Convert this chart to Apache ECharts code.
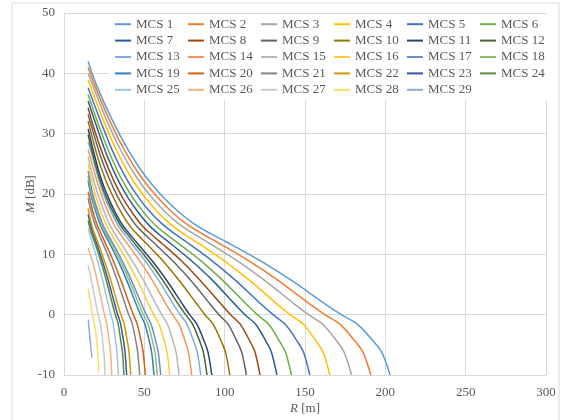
<!DOCTYPE html>
<html>
<head>
<meta charset="utf-8">
<script src="https://cdn.jsdelivr.net/npm/echarts@6/dist/echarts.min.js"></script>
<style>
  html, body { margin: 0; padding: 0; background: #fff; }
  #chart { width: 570px; height: 420px; }
</style>
</head>
<body>
<div id="chart"></div>
<script>
// [R (m), M (dB)], one array per MCS
var mcs1 = [[15,42],[20.3,38],[30.5,32],[40.6,27],[50.8,22.9],[60.9,19.7],[71.1,17.1],[81.2,15],[91.4,13.4],[101.5,12],[121.8,9],[142.1,5.6],[162.4,1.8],[172.6,0],[182.7,-1.6],[192.9,-4.5],[197.9,-6.3],[203,-10]];
var mcs2 = [[15,41],[19.1,38],[28.7,32],[38.2,27],[47.8,22.9],[57.3,19.7],[66.9,17.1],[76.4,15],[86,13.4],[95.5,12],[114.6,9],[133.7,5.6],[152.8,1.8],[162.4,0],[171.9,-1.6],[181.5,-4.5],[186.2,-6.3],[191,-10]];
var mcs3 = [[15,40],[17.9,38],[26.9,32],[35.8,27],[44.8,22.9],[53.7,19.7],[62.7,17.1],[71.6,15],[80.6,13.4],[89.5,12],[107.4,9],[125.3,5.6],[143.2,1.8],[152.2,0],[161.1,-1.6],[170.1,-4.5],[174.5,-6.3],[179,-10]];
var mcs4 = [[15,38.9],[24.8,32],[33.1,27],[41.4,22.9],[49.7,19.7],[57.9,17.1],[66.2,15],[74.5,13.4],[82.8,12],[99.3,9],[115.9,5.6],[132.4,1.8],[140.7,0],[149,-1.6],[157.2,-4.5],[161.4,-6.3],[165.5,-10]];
var mcs5 = [[15,37.6],[23,31.9],[30.6,26.9],[38.3,22.8],[45.9,19.6],[53.6,17],[61.2,15],[68.9,13.4],[76.5,12],[91.8,9],[107.1,5.6],[122.4,1.8],[130.1,0],[137.7,-1.6],[145.4,-4.5],[149.2,-6.3],[153,-10]];
var mcs6 = [[15,36.5],[21.2,31.7],[28.3,26.8],[35.4,22.7],[42.5,19.5],[49.5,17],[56.6,14.9],[63.7,13.3],[70.8,11.9],[84.9,9],[99.1,5.6],[113.2,1.8],[120.3,0],[127.4,-1.6],[134.4,-4.5],[138,-6.3],[141.5,-10]];
var mcs7 = [[15,35.4],[19.9,31.5],[26.5,26.6],[33.1,22.6],[39.8,19.4],[46.4,16.9],[53,14.8],[59.6,13.2],[66.3,11.8],[79.5,8.9],[92.8,5.6],[106,1.8],[112.6,0],[119.3,-1.6],[125.9,-4.5],[129.2,-6.3],[132.5,-10]];
var mcs8 = [[15,34.3],[18.3,31.2],[24.4,26.4],[30.5,22.5],[36.6,19.3],[42.7,16.8],[48.8,14.7],[54.9,13.2],[61,11.8],[73.2,8.9],[85.4,5.5],[97.6,1.8],[103.7,0],[109.8,-1.6],[115.9,-4.5],[119,-6.3],[122,-10]];
var mcs9 = [[15,33.2],[22.7,26.3],[28.4,22.4],[34.1,19.2],[39.7,16.7],[45.4,14.6],[51.1,13.1],[56.8,11.7],[68.1,8.8],[79.5,5.5],[90.8,1.8],[96.5,0],[102.2,-1.6],[107.8,-4.5],[110.7,-6.3],[113.5,-10]];
var mcs10 = [[15,32.1],[20.6,26.4],[25.8,22.4],[31,19.3],[36.1,16.7],[41.3,14.6],[46.4,13.1],[51.6,11.7],[61.9,8.8],[72.2,5.5],[82.6,1.8],[87.7,0],[92.9,-1.6],[98,-4.5],[100.6,-6.3],[103.2,-10]];
var mcs11 = [[15,30.8],[18.4,27],[23,22.6],[27.6,19.4],[32.2,16.8],[36.8,14.7],[41.4,13.2],[46,11.7],[55.2,8.8],[64.4,5.5],[73.6,1.8],[78.2,0],[82.8,-1.6],[87.4,-4.5],[89.7,-6.3],[92,-10]];
var mcs12 = [[15,29.8],[17.8,26.7],[22.3,22.4],[26.7,19.2],[31.2,16.7],[35.6,14.6],[40.1,13.1],[44.5,11.6],[53.4,8.7],[62.3,5.4],[71.2,1.7],[75.7,0],[80.1,-1.6],[84.6,-4.5],[86.8,-6.3],[89,-10]];
var mcs13 = [[15,28.6],[17,26.9],[21.3,22.7],[25.5,19.4],[29.8,16.8],[34,14.6],[38.3,13.1],[42.6,11.6],[51.1,8.7],[59.6,5.4],[68.1,1.7],[72.3,0],[76.6,-1.6],[80.8,-4.5],[83,-6.3],[85.1,-10]];
var mcs14 = [[15,27.4],[19.9,22.7],[23.9,19.4],[27.8,16.8],[31.8,14.6],[35.8,13.1],[39.8,11.6],[47.7,8.7],[55.7,5.4],[63.6,1.7],[67.6,0],[71.6,-1.6],[75.5,-4.5],[77.5,-6.3],[79.5,-10]];
var mcs15 = [[15,26.2],[17.9,22.9],[21.5,19.6],[25.1,17],[28.6,14.8],[32.2,13.2],[35.8,11.7],[43,8.7],[50.1,5.4],[57.3,1.7],[60.9,0],[64.4,-1.6],[68,-4.5],[69.8,-6.3],[71.6,-10]];
var mcs16 = [[15,25],[16.5,23.1],[19.7,19.7],[23,17.1],[26.3,14.9],[29.6,13.3],[32.9,11.8],[39.5,8.8],[46.1,5.5],[52.6,1.8],[55.9,0],[59.2,-1.6],[62.5,-4.5],[64.2,-6.3],[65.8,-10]];
var mcs17 = [[15,23.8],[18.1,19.8],[21.1,17.2],[24.1,15],[27.1,13.4],[30.1,12],[36.1,9],[42.1,5.6],[48.2,1.8],[51.2,0],[54.2,-1.6],[57.2,-4.5],[58.7,-6.3],[60.2,-10]];
var mcs18 = [[15,23],[17.4,19.8],[20.3,17.2],[23.2,15],[26.1,13.4],[29.1,12],[34.9,9],[40.7,5.6],[46.5,1.8],[49.4,0],[52.3,-1.6],[55.2,-4.5],[56.6,-6.3],[58.1,-10]];
var mcs19 = [[15,22.2],[16.8,19.8],[19.6,17.2],[22.4,15],[25.2,13.4],[28,12],[33.6,9],[39.2,5.6],[44.8,1.8],[47.6,0],[50.4,-1.6],[53.2,-4.5],[54.6,-6.3],[56,-10]];
var mcs20 = [[15,20.4],[17.7,17.4],[20.2,15.2],[22.8,13.6],[25.3,12.1],[30.4,9.1],[35.4,5.7],[40.5,1.9],[43,0.1],[45.5,-1.5],[48.1,-4.5],[49.3,-6.3],[50.6,-10]];
var mcs21 = [[15,19.3],[16.5,17.5],[18.8,15.3],[21.2,13.7],[23.6,12.2],[28.3,9.2],[33,5.8],[37.7,2],[40,0.2],[42.4,-1.4],[44.7,-4.4],[45.9,-6.3],[47.1,-10]];
var mcs22 = [[15,17.6],[16.6,15.5],[18.7,13.6],[20.8,12.2],[24.9,9.1],[29.1,5.7],[33.2,1.9],[35.3,0.1],[37.4,-1.5],[39.4,-4.4],[40.5,-6.2],[41.5,-10]];
var mcs23 = [[15,16.6],[17.6,13.8],[19.5,12.4],[23.4,9.3],[27.3,5.9],[31.2,2.1],[33.2,0.2],[35.1,-1.4],[37.1,-4.4],[38,-6.2],[39,-10]];
var mcs24 = [[15,15.6],[16.8,13.7],[18.7,12.3],[22.4,9.3],[26.1,5.9],[29.8,2.1],[31.7,0.2],[33.6,-1.4],[35.4,-4.4],[36.4,-6.2],[37.3,-10]];
var mcs25 = [[15,14.3],[16.9,12.5],[20.3,9.5],[23.7,6.1],[27,2.3],[28.7,0.4],[30.4,-1.2],[32.1,-4.3],[33,-6.1],[33.8,-10]];
var mcs26 = [[15,11],[17.8,8.8],[20.8,5.5],[23.8,1.7],[25.2,0],[26.7,-1.6],[28.2,-4.6],[29,-6.3],[29.7,-10]];
var mcs27 = [[15,8.2],[17.9,4.6],[20.4,1],[23,-2],[24.2,-4.8],[24.9,-6.5],[25.5,-10]];
var mcs28 = [[15,4.3],[17.3,0.6],[19.4,-2.2],[20.5,-4.8],[21.1,-6.6],[21.6,-9.5]];
var mcs29 = [[15.1,-0.8],[15.8,-3],[16.6,-5.2],[17.4,-7.1]];

var curves = [mcs1, mcs2, mcs3, mcs4, mcs5, mcs6, mcs7, mcs8, mcs9, mcs10,
  mcs11, mcs12, mcs13, mcs14, mcs15, mcs16, mcs17, mcs18, mcs19, mcs20,
  mcs21, mcs22, mcs23, mcs24, mcs25, mcs26, mcs27, mcs28, mcs29];

var names = curves.map(function (c, i) { return 'MCS ' + (i + 1); });

// office-like palette
var colors = [
  '#5B9BD5', '#ED7D31', '#A5A5A5', '#FFC000', '#4472C4', '#70AD47',
  '#255E91', '#9E480E', '#636363', '#997300', '#264478', '#43682B',
  '#7CAFDD', '#F1975A', '#B7B7B7', '#FFCD33', '#698ED0', '#8CC168',
  '#327DC2', '#D26012', '#848484', '#CC9A00', '#335AA1', '#5A8A39',
  '#9DC3E6', '#F4B183', '#C9C9C9', '#FFD966', '#8FAADC'
];

var serif = '"Liberation Serif", "Times New Roman", serif';
var textGray = '#595959';

var myChart = echarts.init(document.getElementById('chart'));

var series = curves.map(function (c, i) {
  return {
    name: names[i],
    type: 'line',
    data: c,
    symbol: 'none',
    smooth: 0.3,
    lineStyle: { color: colors[i], width: 1.5 },
    itemStyle: { color: colors[i] },
    z: 30 - i
  };
});

var option = {
  animation: false,
  backgroundColor: '#fff',
  color: colors,
  graphic: [{
    type: 'rect',
    shape: { x: 12, y: 3, width: 547, height: 430 },
    style: { fill: 'none', stroke: '#d9d9d9', lineWidth: 1 },
    silent: true
  }],
  grid: { left: 64, right: 24, top: 13, bottom: 42 },
  legend: {
    data: names,
    icon: 'rect',
    left: 109,
    top: 14,
    width: 440,
    padding: [3, 0, 3, 6],
    backgroundColor: '#fff',
    itemWidth: 16,
    itemHeight: 2,
    itemGap: 2,
    textStyle: {
      fontFamily: serif,
      fontSize: 13,
      color: textGray,
      width: 50,
      lineHeight: 14.4
    }
  },
  xAxis: {
    type: 'value',
    min: 0,
    max: 300,
    interval: 50,
    name: '{i|R} [m]',
    nameLocation: 'middle',
    nameGap: 27,
    nameMoveOverlap: false,
    nameTextStyle: {
      fontFamily: serif, fontSize: 13, color: textGray,
      rich: { i: { fontFamily: serif, fontSize: 13, color: textGray, fontStyle: 'italic' } }
    },
    axisLine: { show: true, lineStyle: { color: '#d9d9d9' } },
    axisTick: { show: false },
    axisLabel: { fontFamily: serif, fontSize: 13, color: textGray, margin: 11 },
    splitLine: { show: true, lineStyle: { color: '#d9d9d9' } }
  },
  yAxis: {
    type: 'value',
    min: -10,
    max: 50,
    interval: 10,
    name: '{i|M} [dB]',
    nameLocation: 'middle',
    nameGap: 27,
    nameRotate: 90,
    nameMoveOverlap: false,
    nameTextStyle: {
      fontFamily: serif, fontSize: 13, color: textGray,
      rich: { i: { fontFamily: serif, fontSize: 13, color: textGray, fontStyle: 'italic' } }
    },
    axisLine: { show: true, onZero: false, lineStyle: { color: '#d9d9d9' } },
    axisTick: { show: false },
    axisLabel: { fontFamily: serif, fontSize: 13, color: textGray, margin: 9 },
    splitLine: { show: true, lineStyle: { color: '#d9d9d9' } }
  },
  series: series
};

myChart.setOption(option);
</script>
</body>
</html>
